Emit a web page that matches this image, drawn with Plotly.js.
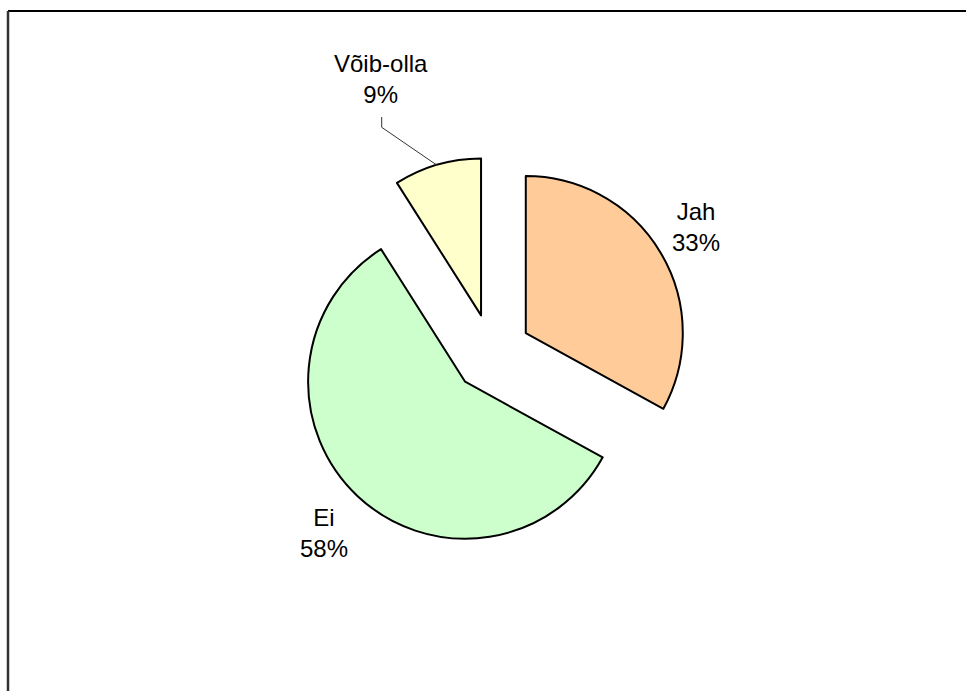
<!DOCTYPE html>
<html>
<head>
<meta charset="utf-8">
<script src="https://cdn.plot.ly/plotly-3.0.1.min.js"></script>
<style>html,body{margin:0;padding:0;background:#fff;}#chart{width:966px;height:691px;}</style>
</head>
<body>
<div id="chart"></div>
<script>
const labels = ["Jah", "Ei", "Võib-olla"];
const values = [33, 58, 9];
const colors = ["#FFCC99", "#CCFFCC", "#FFFFCC"];

const W = 966, H = 691;
const px = x => x / W;
const py = y => 1 - y / H;

const total = values.reduce((a, b) => a + b, 0);
const pct = values.map(v => Math.round(v / total * 100) + "%");

// label centre positions (pixels)
const labelPos = [[696, 227], [324, 533], [381, 79]];

const annotations = labels.map((l, i) => ({
  text: l + "<br>" + pct[i],
  xref: "paper", yref: "paper",
  x: px(labelPos[i][0]), y: py(labelPos[i][1]),
  xanchor: "center", yanchor: "middle",
  showarrow: false,
  font: {family: "Liberation Sans, Arial, sans-serif", size: 24, color: "#000"}
}));

const leader = "M " + px(381.7) + " " + py(117) + " L " + px(381.7) + " " + py(127.3) + " L " + px(436.7) + " " + py(165);

const data = [{
  type: "pie",
  labels: labels,
  values: values,
  sort: false,
  direction: "clockwise",
  rotation: 0,
  pull: [0.25, 0.25, 0.25],
  marker: {colors: colors, line: {color: "#000", width: 2}},
  textinfo: "none",
  hoverinfo: "label+percent",
  showlegend: false,
  domain: {x: [px(295.75), px(688.25)], y: [py(549.35), py(156.85)]}
}];

const layout = {
  width: W, height: H,
  margin: {l: 0, r: 0, t: 0, b: 0},
  paper_bgcolor: "#fff",
  showlegend: false,
  annotations: annotations,
  shapes: [
    {type: "line", xref: "paper", yref: "paper", x0: px(8), x1: px(980), y0: py(11), y1: py(11), line: {color: "#000", width: 2}},
    {type: "line", xref: "paper", yref: "paper", x0: px(8), x1: px(8), y0: py(11), y1: py(700), line: {color: "#333", width: 2.5}},
    {type: "path", xref: "paper", yref: "paper", path: leader, line: {color: "#333", width: 1}}
  ]
};

Plotly.newPlot("chart", data, layout, {displayModeBar: false, staticPlot: true});
</script>
</body>
</html>
